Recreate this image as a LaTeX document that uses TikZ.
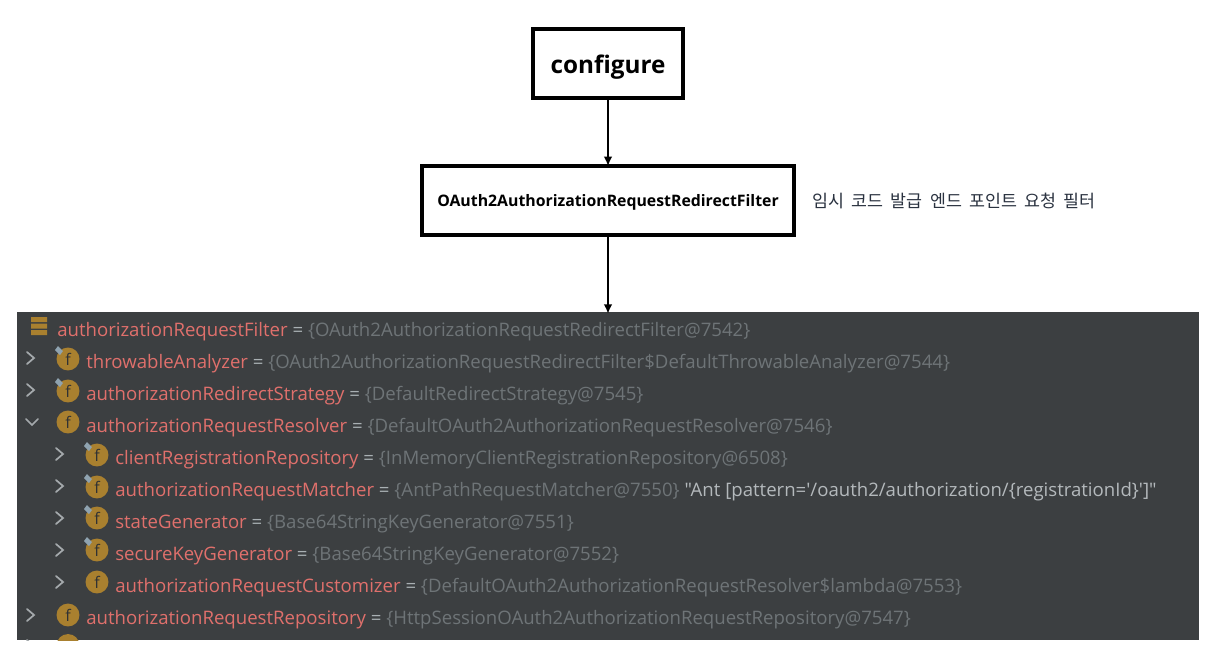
\documentclass[tikz,border=0pt]{standalone}
\usepackage{fontspec}
\setmainfont{Open Sans}[Ligatures=TeXOff]
\newfontfamily\krfont{Noto Sans CJK KR}[WordSpace=1.9]
\usetikzlibrary{arrows.meta}
\definecolor{panelbg}{HTML}{3C3F41}
\definecolor{fieldred}{HTML}{E0706C}
\definecolor{valgray}{HTML}{6E7477}
\definecolor{eqgray}{HTML}{A9B0B3}
\definecolor{strlight}{HTML}{B4B9BC}
\definecolor{goldicon}{HTML}{A9802F}
\definecolor{chev}{HTML}{A4A9AC}
\definecolor{pinblue}{HTML}{8FA3B0}
\definecolor{krtext}{HTML}{2A3240}
\tikzset{
  x=0.75pt,y=-0.75pt,
  boxnode/.style={draw=black,line width=3pt,fill=white,inner sep=0pt,align=center},
  conn/.style={draw=black,line width=1.5pt,shorten >=-1.5pt,-{Latex[length=7pt,width=6.5pt]}},
  rowtext/.style={anchor=base west,inner sep=0pt,font=\fontsize{13.95pt}{17pt}\selectfont},
  fbadge/.style={circle,fill=goldicon,minimum size=17.2pt,inner sep=0pt,text=panelbg!80!black,font=\fontsize{12pt}{13pt}\selectfont},
  chevline/.style={draw=chev,line width=1.3pt,line cap=round,line join=miter},
}
\newcommand{\sepeq}{\textcolor{eqgray}{\ =\ }}
\newcommand{\rowline}[5]{%
  \node[rowtext] (#1) at (#2,#3) {\textcolor{fieldred}{#4}\sepeq\textcolor{valgray}{#5}};}
\newcommand{\badge}[4]{% name, x, y, pin
  \node[fbadge] (#1) at (#2,#3) {f};
  \ifnum#4=1
    \fill[pinblue] (#2-13,#3-9) -- (#2-10,#3-13) -- (#2-5,#3-8) -- (#2-8,#3-4) -- cycle;
  \fi}
\newcommand{\chevright}[2]{\draw[chevline] (#1-4,#2-6) -- (#1+3,#2) -- (#1-4,#2+6);}
\newcommand{\chevdown}[2]{\draw[chevline] (#1-6,#2-3) -- (#1,#2+3) -- (#1+6,#2-3);}
\begin{document}
\begin{tikzpicture}
\useasboundingbox (0,0) rectangle (1227,658);
\fill[white] (0,0) rectangle (1227,658);
\node[boxnode,minimum width=150*0.75pt,minimum height=69*0.75pt,font=\bfseries\fontsize{18.2pt}{22pt}\selectfont] (configure) at (608,63.5) {\smash{\raisebox{-7.6pt}{configure}}};
\node[boxnode,minimum width=372*0.75pt,minimum height=69*0.75pt,font=\bfseries\fontsize{11.87pt}{14pt}\selectfont] (filter) at (608,200.5) {\smash{\raisebox{-4.4pt}{OAuth2AuthorizationRequestRedirectFilter}}};
\node[anchor=west,inner sep=0pt,text=krtext,font=\krfont\fontsize{13pt}{15pt}\selectfont] (note) at (812,200.5) {임시 코드 발급 엔드 포인트 요청 필터};
\node[fill=panelbg,inner sep=0pt,minimum width=1182*0.75pt,minimum height=328*0.75pt] (panel) at (608,476) {};
\draw[conn] (configure) -- (filter);
\draw[conn] (filter) -- (panel);
\begin{scope}
\clip (17,312) rectangle (1199,640);
% header icon
\fill[goldicon] (31,317) rectangle (47,322) (31,323.5) rectangle (47,328.5) (31,330) rectangle (47,335);
\rowline{r0}{57}{336}{authorizationRequestFilter}{\{OAuth2AuthorizationRequestRedirectFilter@7542\}}
\chevright{31}{358}\badge{b1}{68}{359}{1}
\rowline{r1}{86}{368}{throwableAnalyzer}{\{OAuth2AuthorizationRequestRedirectFilter\$DefaultThrowableAnalyzer@7544\}}
\chevright{31}{390}\badge{b2}{68}{391}{1}
\rowline{r2}{86}{400}{authorizationRedirectStrategy}{\{DefaultRedirectStrategy@7545\}}
\chevdown{32}{422}\badge{b3}{68}{422}{0}
\rowline{r3}{86}{432}{authorizationRequestResolver}{\{DefaultOAuth2AuthorizationRequestResolver@7546\}}
\chevright{60}{454}\badge{b4}{97}{455}{1}
\rowline{r4}{115}{464}{clientRegistrationRepository}{\{InMemoryClientRegistrationRepository@6508\}}
\chevright{60}{486}\badge{b5}{97}{487}{1}
\node[rowtext] (r5) at (115,496) {\textcolor{fieldred}{authorizationRequestMatcher}\sepeq\textcolor{valgray}{\{AntPathRequestMatcher@7550\}}\ \textcolor{strlight}{"Ant [pattern='/oauth2/authorization/\{registrationId\}']"}};
\chevright{60}{518}\badge{b6}{97}{518}{1}
\rowline{r6}{115}{528}{stateGenerator}{\{Base64StringKeyGenerator@7551\}}
\chevright{60}{550}\badge{b7}{97}{550}{1}
\rowline{r7}{115}{560}{secureKeyGenerator}{\{Base64StringKeyGenerator@7552\}}
\chevright{60}{582}\badge{b8}{97}{582}{0}
\rowline{r8}{115}{592}{authorizationRequestCustomizer}{\{DefaultOAuth2AuthorizationRequestResolver\$lambda@7553\}}
\chevright{31}{615}\badge{b9}{68}{615}{0}
\rowline{r9}{86}{624}{authorizationRequestRepository}{\{HttpSessionOAuth2AuthorizationRequestRepository@7547\}}
\node[fbadge] (b10) at (68,645.5) {};
\chevright{31}{646}
\end{scope}
\end{tikzpicture}
\end{document}
